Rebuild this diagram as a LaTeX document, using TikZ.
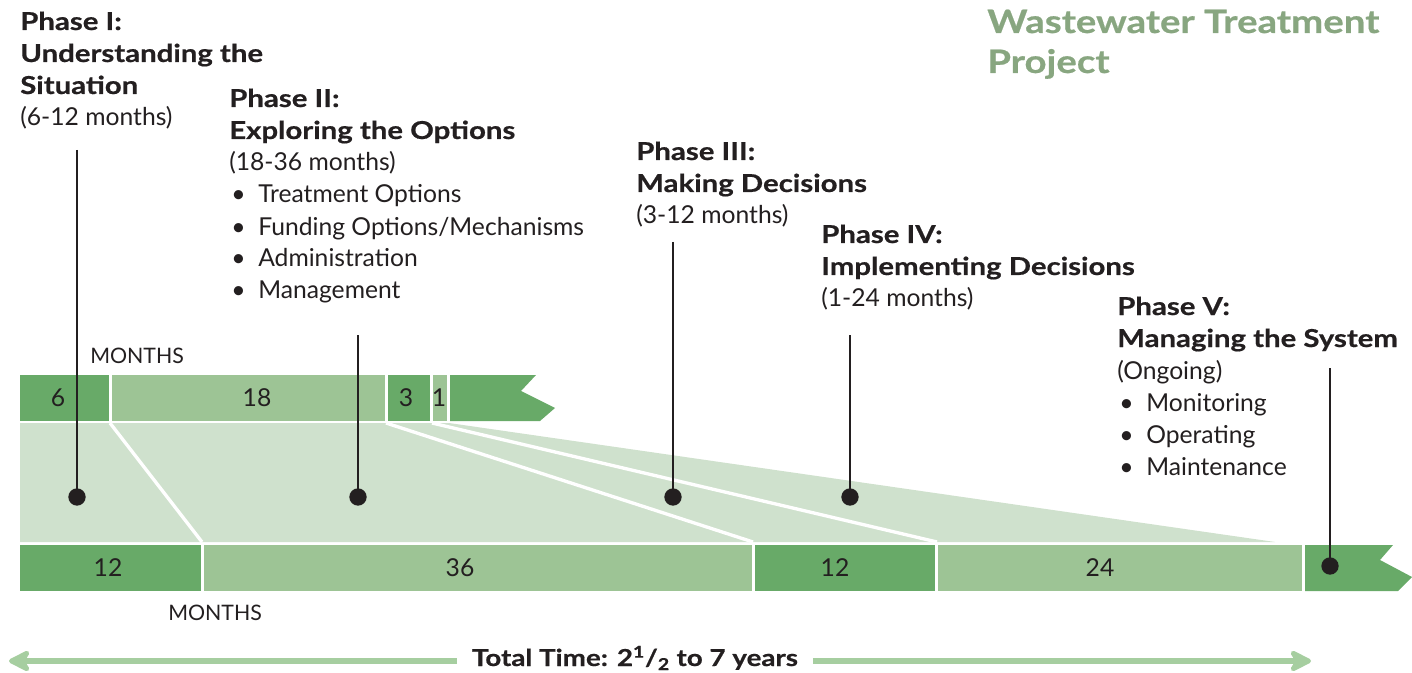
\documentclass[tikz,border=0pt]{standalone}
\usepackage{fontspec}
\setmainfont{Lato}[BoldFeatures={FakeStretch=1.19,FakeBold=0.6}]
\usetikzlibrary{arrows.meta}

\definecolor{darkgrn}{RGB}{104,170,104}
\definecolor{midgrn}{RGB}{157,196,149}
\definecolor{lightgrn}{RGB}{207,225,205}
\definecolor{arrgrn}{RGB}{166,206,160}
\definecolor{titlegrn}{RGB}{136,166,128}
\definecolor{ink}{RGB}{35,31,32}

% bullet line in the phase lists
\newcommand{\bul}[1]{\hspace*{1.5pt}\makebox[20.25pt][l]{\textbullet}#1}

\begin{document}
\begin{tikzpicture}[x=0.75pt,y=-0.75pt,
  % multi-line nodes sit on the baseline of their last line
  phase/.style={anchor=base west, align=left, inner sep=0pt, text=ink, font=\fontsize{18.5}{24}\selectfont},
  seglabel/.style={text=ink, inner sep=0pt, font=\fontsize{18.5}{24}\selectfont},
  months/.style={anchor=base west, inner sep=0pt, text=ink, font=\fontsize{16}{20}\selectfont},
  dot/.style={circle, fill=ink, inner sep=0pt, minimum size=13pt},
  pin/.style={ink, line width=1.1pt},
  fanline/.style={white, line width=2.5pt},
  tarrow/.style={arrgrn, line width=4.5pt, -{Stealth[length=20pt,width=20pt,inset=6pt,round]}}]

\useasboundingbox (0,0) rectangle (1412,673);

% title
\node[anchor=base west, align=left, inner sep=0pt, text=titlegrn, font=\bfseries\fontsize{24.2}{30}\selectfont] (title) at (987,73) {Wastewater Treatment\\Project};

% fan from the short scale to the long scale
\fill[lightgrn] (20,423) -- (449,423) -- (1275,542) -- (20,542) -- cycle;
\draw[fanline] (110,423) -- (202,542);
\draw[fanline] (386,423) -- (753,542);
\draw[fanline] (432,423) -- (937,542);

% top bar (shortest times)
\fill[darkgrn] (20,375) rectangle (109,421);
\fill[midgrn] (112,375) rectangle (385,421);
\fill[darkgrn] (388,375) rectangle (430,421);
\fill[midgrn] (433,375) rectangle (447,421);
\fill[darkgrn] (450,375) -- (536,375) -- (521,391) -- (555,408) -- (540,421) -- (450,421) -- cycle;

\node[seglabel] (s6) at (58,398) {6};
\node[seglabel] (s18) at (257,398) {18};
\node[seglabel] (s3) at (406,398) {3};
\node[seglabel] (s1) at (439,398) {1};
\node[months] (mtop) at (90,363) {MONTHS};

% bottom bar (longest times)
\fill[darkgrn] (20,545) rectangle (201,591);
\fill[midgrn] (204,545) rectangle (752,591);
\fill[darkgrn] (755,545) rectangle (935,591);
\fill[midgrn] (938,545) rectangle (1302,591);
\fill[darkgrn] (1305,545) -- (1393,545) -- (1380,560) -- (1412,577) -- (1398,591) -- (1305,591) -- cycle;

\node[seglabel] (l12) at (108,568) {12};
\node[seglabel] (l36) at (460,568) {36};
\node[seglabel] (l12b) at (835,568) {12};
\node[seglabel] (l24) at (1100,568) {24};
\node[months] (mbot) at (168,620) {MONTHS};

% phase texts
\node[phase] (p1) at (20,126) {\textbf{Phase I:}\\\textbf{Understanding the}\\\textbf{Situation}\\(6-12 months)};
\node[phase] (p2) at (229,299) {\textbf{Phase II:}\\\textbf{Exploring the Options}\\(18-36 months)\\
  \bul{Treatment Options}\\\bul{Funding Options/Mechanisms}\\\bul{Administration}\\\bul{Management}};
\node[phase] (p3) at (636,224) {\textbf{Phase III:}\\\textbf{Making Decisions}\\(3-12 months)};
\node[phase] (p4) at (821,307) {\textbf{Phase IV:}\\\textbf{Implementing Decisions}\\(1-24 months)};
\node[phase] (p5) at (1117,475) {\textbf{Phase V:}\\\textbf{Managing the System}\\(Ongoing)\\
  \bul{Monitoring}\\\bul{Operating}\\\bul{Maintenance}};

% pins from the texts down to the bars
\coordinate (t1) at (77,150);
\coordinate (t2) at (358,335);
\coordinate (t3) at (673,242);
\coordinate (t4) at (850,335);
\coordinate (t5) at (1330,368);
\node[dot] (d1) at (77,497) {};
\node[dot] (d2) at (358,497) {};
\node[dot] (d3) at (673,497) {};
\node[dot] (d4) at (850,497) {};
\node[dot] (d5) at (1330,566) {};
\foreach \i in {1,...,5}
  \draw[pin] (t\i) -- (d\i.center);

% total time
\node[text=ink, inner xsep=11pt, inner ysep=0pt, anchor=base, font=\bfseries\fontsize{17.5}{22}\selectfont] (total) at (635,666) {Total Time: 2\textsuperscript{1}/\textsubscript{2} to 7 years};
\coordinate (endL) at (9,661);
\coordinate (endR) at (1311,661);
\draw[tarrow] (total.west |- endL) -- (endL);
\draw[tarrow] (total.east |- endR) -- (endR);

\end{tikzpicture}
\end{document}
